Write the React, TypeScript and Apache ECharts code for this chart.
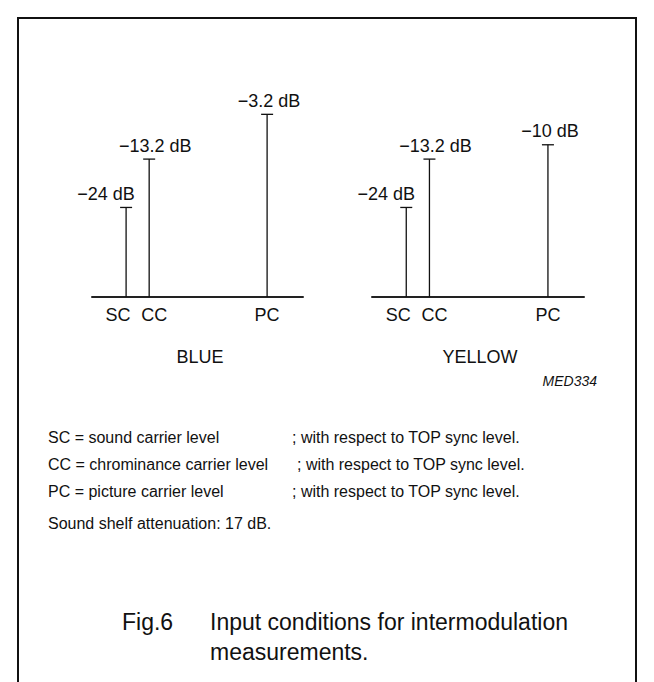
import React, { useEffect, useRef } from "react";
import * as echarts from "echarts";

// ---- data ----
const carriers = ["SC", "CC", "PC"];
// carrier positions (MHz relative to picture carrier)
const carrierOffsetMHz = [-5.5, -4.6, 0];
const blueLevelsDb = [-24, -13.2, -3.2];
const yellowLevelsDb = [-24, -13.2, -10];
const panelNames = ["BLUE", "YELLOW"];
const figureCode = "MED334";
const legendTerms = [
  "SC = sound carrier level",
  "CC = chrominance carrier level",
  "PC = picture carrier level",
];
const legendNote = "; with respect to TOP sync level.";
const shelfNote = "Sound shelf attenuation: 17 dB.";
const captionLabel = "Fig.6";
const captionLines = ["Input conditions for intermodulation", "measurements."];

// ---- layout / style ----
const FONT = "'Liberation Sans', Arial, Helvetica, sans-serif";
const X_MIN = -6.83;
const X_MAX = 1.4;
const Y_MIN = -44;
const Y_MAX = 0;
const VALUE_LABEL_DX = [-20, 6, 2];
const TICK_LABEL_DX = [-8, 5, 0];
const INK = "#111";

const fmtDb = (v: number) => (v < 0 ? "\u2212" : "") + Math.abs(v) + " dB";

const makeRender = (levels: number[]) => (params: any, api: any) => {
  const i = params.dataIndex;
  const x = api.value(0);
  const v = api.value(1);
  const top = api.coord([x, v]);
  const base = api.coord([x, Y_MIN]);
  const txt = (t: string, px: number, py: number) => ({
    type: "text",
    x: px,
    y: py,
    style: {
      text: t,
      fill: INK,
      fontSize: 18,
      fontFamily: FONT,
      textAlign: "center",
      textVerticalAlign: "middle",
      align: "center",
      verticalAlign: "middle",
    },
  });
  return {
    type: "group",
    children: [
      {
        type: "line",
        shape: { x1: top[0], y1: base[1], x2: top[0], y2: top[1] },
        style: { stroke: INK, lineWidth: 1.3 },
      },
      {
        type: "line",
        shape: { x1: top[0] - 6, y1: top[1], x2: top[0] + 6, y2: top[1] },
        style: { stroke: INK, lineWidth: 1.3 },
      },
      txt(fmtDb(levels[i]), top[0] + VALUE_LABEL_DX[i], top[1] - 13.5),
      txt(carriers[i], base[0] + TICK_LABEL_DX[i], base[1] + 18),
    ],
  };
};

const textEl = (
  t: string,
  x: number,
  y: number,
  size: number,
  align = "left",
  italic = false
) => ({
  type: "text",
  x,
  y,
  style: {
    text: t,
    fill: INK,
    fontSize: size,
    fontFamily: FONT,
    fontStyle: italic ? "italic" : "normal",
    textAlign: align,
    textVerticalAlign: "middle",
    align,
    verticalAlign: "middle",
  },
});

export default function App() {
  const ref = useRef<HTMLDivElement>(null);
  useEffect(() => {
    if (!ref.current) return;
    const chart = echarts.init(ref.current, null, { renderer: "svg" });
    const axisX = (gi: number) => ({
      type: "value",
      gridIndex: gi,
      min: X_MIN,
      max: X_MAX,
      axisLine: { show: true, onZero: false, lineStyle: { color: "#222", width: 2 } },
      axisTick: { show: false },
      axisLabel: { show: false },
      splitLine: { show: false },
    });
    const axisY = (gi: number) => ({
      type: "value",
      gridIndex: gi,
      min: Y_MIN,
      max: Y_MAX,
      show: false,
      splitLine: { show: false },
    });
    chart.setOption({
      animation: false,
      backgroundColor: "#fff",
      grid: [
        { left: 92, top: 100, width: 211, height: 197 },
        { left: 372, top: 100, width: 212, height: 197 },
      ],
      xAxis: [axisX(0), axisX(1)],
      yAxis: [axisY(0), axisY(1)],
      series: [
        {
          type: "custom",
          name: panelNames[0],
          xAxisIndex: 0,
          yAxisIndex: 0,
          clip: false,
          data: carrierOffsetMHz.map((x, i) => [x, blueLevelsDb[i]]),
          renderItem: makeRender(blueLevelsDb),
        },
        {
          type: "custom",
          name: panelNames[1],
          xAxisIndex: 1,
          yAxisIndex: 1,
          clip: false,
          data: carrierOffsetMHz.map((x, i) => [x, yellowLevelsDb[i]]),
          renderItem: makeRender(yellowLevelsDb),
        },
      ],
      graphic: [
        {
          type: "polyline",
          shape: { points: [[18, 690], [18, 18], [636, 18], [636, 690]] },
          style: { stroke: INK, lineWidth: 2, fill: "none" },
        },
        textEl(panelNames[0], 200, 357, 18, "center"),
        textEl(panelNames[1], 480, 357, 18, "center"),
        textEl(figureCode, 597, 381, 14, "right", true),
        textEl(legendTerms[0], 48, 437, 16),
        textEl(legendTerms[1], 48, 464, 16),
        textEl(legendTerms[2], 48, 491, 16),
        textEl(legendNote, 292, 437, 16),
        textEl(legendNote, 297, 464, 16),
        textEl(legendNote, 292, 491, 16),
        textEl(shelfNote, 48, 523, 16),
        textEl(captionLabel, 122, 622, 23),
        textEl(captionLines[0], 210, 622, 23),
        textEl(captionLines[1], 210, 652, 23),
      ],
    });
    return () => chart.dispose();
  }, []);
  return (
    <div
      ref={ref}
      style={{ position: "absolute", left: 0, top: 0, width: 654, height: 682 }}
    />
  );
}
